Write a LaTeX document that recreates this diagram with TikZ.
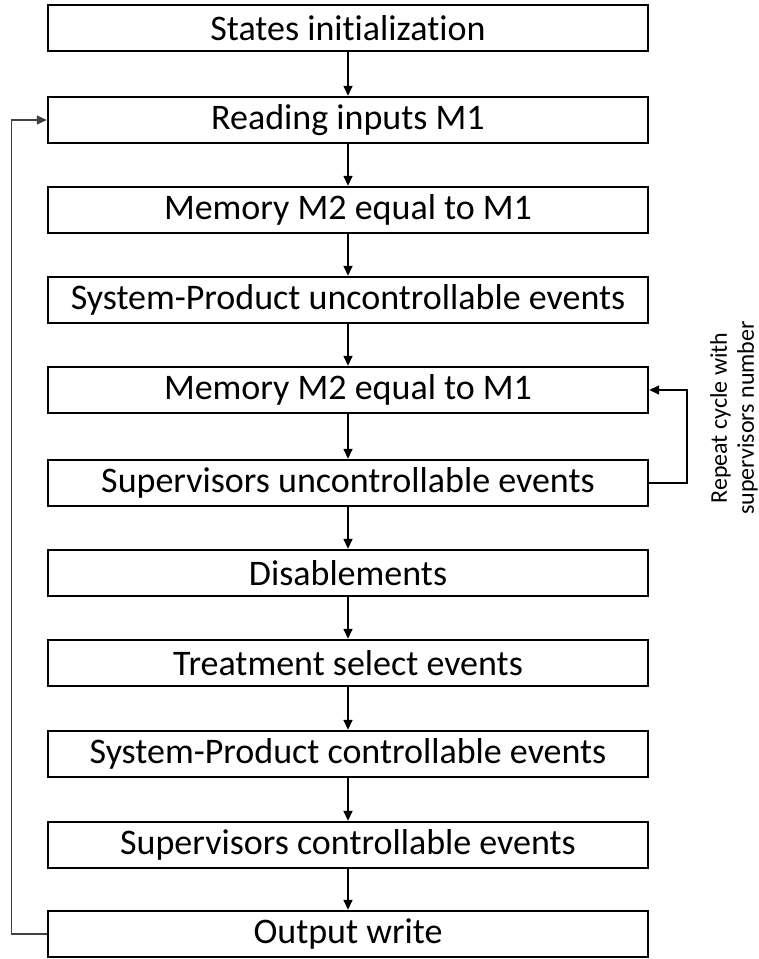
\documentclass[tikz,border=0pt]{standalone}
\usepackage{fontspec}
\setmainfont{Carlito}[Ligatures=NoCommon]
\usetikzlibrary{arrows.meta, positioning}

\tikzset{
  box/.style = {draw, line width=2.4pt, minimum width=600pt, minimum height=46pt,
    inner sep=0pt, font=\fontsize{36}{40}\selectfont},
}

\begin{document}
\begin{tikzpicture}[x=1pt, y=1pt, line width=1.5pt, >={Triangle[length=10pt, width=9pt]}]
    \useasboundingbox (0,0) rectangle (759,-959);

    \node[box](SI) at (348,-28){States initialization};
    \node[box](RI) at (348,-120){Reading inputs M1};
    \node[box](MA) at (348,-210){Memory M2 equal to M1};
    \node[box](SPU) at (348,-300){System-Product uncontrollable events};
    \node[box](MB) at (348,-390){Memory M2 equal to M1};
    \node[box](SVU) at (348,-483){Supervisors uncontrollable events};
    \node[box](DIS) at (348,-573){Disablements};
    \node[box](TSE) at (348,-663){Treatment select events};
    \node[box](SPC) at (348,-754){System-Product controllable events};
    \node[box](SVC) at (348,-845){Supervisors controllable events};
    \node[box](OW) at (348,-934){Output write};

    \path[->] (SI) edge (RI);
    \path[->] (RI) edge (MA);
    \path[->] (MA) edge (SPU);
    \path[->] (SPU) edge (MB);
    \path[->] (MB) edge (SVU);
    \path[->] (SVU) edge (DIS);
    \path[->] (DIS) edge (TSE);
    \path[->] (TSE) edge (SPC);
    \path[->] (SPC) edge (SVC);
    \path[->] (SVC) edge (OW);

    % loop back to the inputs
    \draw[->, line width=1.2pt, black!75] (OW.west) -- ++(-35,0) |- (RI.west);
    % repeat for every supervisor
    \draw[->] (SVU.east) -- ++(38,0) |- (MB.east);
    \node[rotate=90, align=center, font=\fontsize{24}{27}\selectfont](RC) at (734,-418)
        {Repeat cycle with\\supervisors number};
\end{tikzpicture}
\end{document}
